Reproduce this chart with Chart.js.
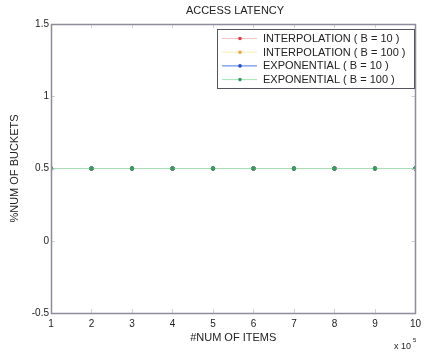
<!DOCTYPE html>
<html>
<head>
<meta charset="utf-8">
<script src="https://cdn.jsdelivr.net/npm/chart.js@4/dist/chart.umd.min.js"></script>
<style>
  html, body { margin: 0; padding: 0; background: #fff; }
  #wrap { width: 426px; height: 353px; }
</style>
</head>
<body>
<div id="wrap"><canvas id="chart" width="426" height="353"></canvas></div>
<script>
// data (x in units of 10^5 items)
const numItems = [1, 2, 3, 4, 5, 6, 7, 8, 9, 10]
const interp10 = [0.5, 0.5, 0.5, 0.5, 0.5, 0.5, 0.5, 0.5, 0.5, 0.5]
const interp100 = [0.5, 0.5, 0.5, 0.5, 0.5, 0.5, 0.5, 0.5, 0.5, 0.5]
const expo10 = [0.5, 0.5, 0.5, 0.5, 0.5, 0.5, 0.5, 0.5, 0.5, 0.5]
const expo100 = [0.5, 0.5, 0.5, 0.5, 0.5, 0.5, 0.5, 0.5, 0.5, 0.5]
const seriesLabels = ['INTERPOLATION ( B = 10 )', 'INTERPOLATION ( B = 100 )', 'EXPONENTIAL ( B = 10 )', 'EXPONENTIAL ( B = 100 )']
const yTicks = [-0.5, 0, 0.5, 1, 1.5]

const FONT = '"Liberation Sans", Arial, sans-serif'
const TEXT = '#222'

function toPoints(values) {
    return values.map((v, i) => ({x: numItems[i], y: v}))
}

// later series drawn on top, like matlab's plot order
function series(label, values, line, marker, idx) {
    return {
        label: label,
        data: toPoints(values),
        order: 10 - idx,
        borderColor: line,
        backgroundColor: marker,
        pointBackgroundColor: marker,
        pointBorderColor: marker,
        pointRadius: 1.8,
        pointHoverRadius: 1.8,
        borderWidth: 1,
        tension: 0
    }
}

// frame, inward ticks, multiplier and boxed legend
const matlabFrame = {
    id: 'matlabFrame',
    afterDraw: function (chart) {
        const ctx = chart.ctx
        const a = chart.chartArea
        const xs = chart.scales.x
        const ys = chart.scales.y
        ctx.save()
        ctx.strokeStyle = '#d0d0d8'
        ctx.lineWidth = 1
        ctx.beginPath()
        numItems.forEach(v => {
            const px = Math.round(xs.getPixelForValue(v)) + 0.5
            ctx.moveTo(px, a.bottom); ctx.lineTo(px, a.bottom - 4)
            ctx.moveTo(px, a.top); ctx.lineTo(px, a.top + 4)
        })
        yTicks.forEach(v => {
            const py = Math.round(ys.getPixelForValue(v)) + 0.5
            ctx.moveTo(a.left, py); ctx.lineTo(a.left + 4, py)
            ctx.moveTo(a.right, py); ctx.lineTo(a.right - 4, py)
        })
        ctx.stroke()

        ctx.strokeStyle = '#8c8c9c'
        ctx.lineWidth = 1.5
        ctx.strokeRect(Math.round(a.left) + 0.5, Math.round(a.top) + 0.5,
            Math.round(a.right - a.left), Math.round(a.bottom - a.top))

        // x 10^5 multiplier
        ctx.fillStyle = TEXT
        ctx.font = '9px ' + FONT
        ctx.textBaseline = 'alphabetic'
        ctx.textAlign = 'left'
        ctx.fillText('x 10', 394, 349)
        ctx.font = '6px ' + FONT
        ctx.fillText('5', 413, 342)

        // legend box
        const lx = 217, ly = 29, lw = 197, lh = 59
        ctx.fillStyle = '#fff'
        ctx.fillRect(lx, ly, lw, lh)
        ctx.strokeStyle = '#55555f'
        ctx.lineWidth = 1
        ctx.strokeRect(lx + 0.5, ly + 0.5, lw, lh)
        ctx.font = '11px ' + FONT
        ctx.textBaseline = 'middle'
        chart.data.datasets.forEach((ds, i) => {
            const y = ly + 9.5 + i * 13.7
            ctx.strokeStyle = ds.borderColor
            ctx.lineWidth = 1
            ctx.beginPath()
            ctx.moveTo(222, y); ctx.lineTo(257, y)
            ctx.stroke()
            ctx.fillStyle = ds.pointBackgroundColor
            ctx.beginPath()
            ctx.arc(240, y, 1.8, 0, Math.PI * 2)
            ctx.fill()
            ctx.fillStyle = TEXT
            ctx.fillText(ds.label, 263, y + 0.5)
        })
        ctx.restore()
    }
}

const chartTitle = {
    id: 'chartTitle',
    afterDraw: function (chart) {
        const ctx = chart.ctx
        ctx.save()
        ctx.fillStyle = TEXT
        ctx.font = '11px ' + FONT
        ctx.textAlign = 'center'
        ctx.textBaseline = 'middle'
        ctx.fillText('ACCESS LATENCY', 235, 11)
        ctx.restore()
    }
}

new Chart(document.getElementById('chart'), {
    type: 'line',
    data: {
        datasets: [
            series(seriesLabels[0], interp10, '#f6c4c4', '#e23a3a', 0),
            series(seriesLabels[1], interp100, '#fbe9b8', '#f0a640', 1),
            series(seriesLabels[2], expo10, '#4a78e0', '#2050c8', 2),
            series(seriesLabels[3], expo100, '#a8dfb6', '#3a9c5c', 3)
        ]
    },
    options: {
        responsive: false,
        animation: false,
        events: [],
        layout: {padding: {top: 24, right: 7, left: 0, bottom: 0}},
        plugins: {
            legend: {display: false},
            title: {display: false},
            tooltip: {enabled: false}
        },
        scales: {
            x: {
                type: 'linear',
                min: 1,
                max: 10,
                grid: {display: false, drawTicks: false},
                border: {display: false},
                afterFit: function (scale) { scale.height = 40 },
                ticks: {
                    stepSize: 1,
                    padding: 5,
                    color: TEXT,
                    font: {family: FONT, size: 10},
                    maxRotation: 0,
                    autoSkip: false
                },
                title: {
                    display: true,
                    text: '#NUM OF ITEMS',
                    color: TEXT,
                    font: {family: FONT, size: 11},
                    padding: {top: 0, bottom: 8.5}
                }
            },
            y: {
                min: -0.5,
                max: 1.5,
                grid: {display: false, drawTicks: false},
                border: {display: false},
                afterFit: function (scale) { scale.width = 51 },
                afterBuildTicks: function (scale) {
                    scale.ticks = yTicks.map(v => ({value: v}))
                },
                ticks: {
                    padding: 2,
                    color: TEXT,
                    font: {family: FONT, size: 10},
                    callback: function (v) { return String(v) }
                },
                title: {
                    display: true,
                    text: '%NUM OF BUCKETS',
                    color: TEXT,
                    font: {family: FONT, size: 11},
                    padding: {top: 8.5, bottom: 0}
                }
            }
        }
    },
    plugins: [matlabFrame, chartTitle]
});
</script>
</body>
</html>
